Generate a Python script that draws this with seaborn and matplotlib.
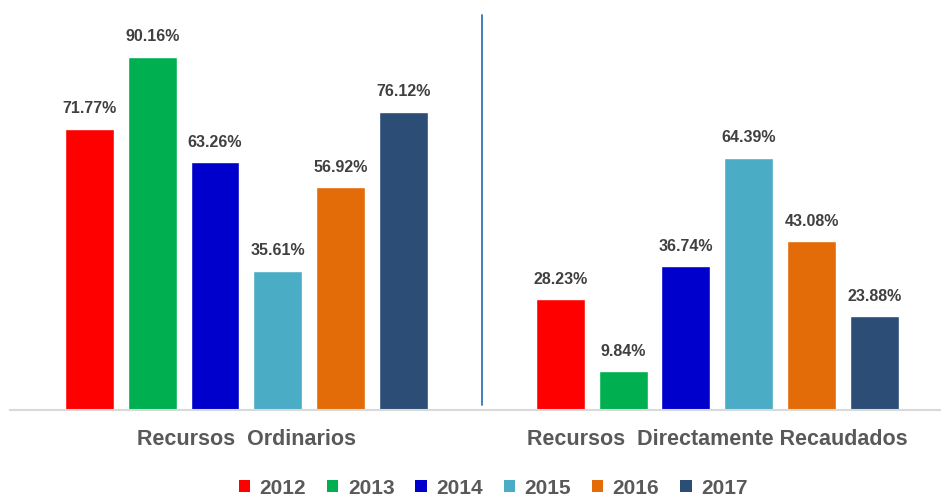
import pandas as pd
import matplotlib
matplotlib.use("Agg")
import matplotlib.pyplot as plt
import seaborn as sns
from matplotlib.patches import Patch

# Datos
categorias = ['Recursos  Ordinarios', 'Recursos  Directamente Recaudados']
anios = ['2012', '2013', '2014', '2015', '2016', '2017']
val_2012 = [71.77, 28.23]
val_2013 = [90.16, 9.84]
val_2014 = [63.26, 36.74]
val_2015 = [35.61, 64.39]
val_2016 = [56.92, 43.08]
val_2017 = [76.12, 23.88]
colores = ['#FF0000', '#00B050', '#0000CC', '#4BACC6', '#E36C09', '#2C4D75']

series = [val_2012, val_2013, val_2014, val_2015, val_2016, val_2017]
filas = []
for anio, vals in zip(anios, series):
    for cat, v in zip(categorias, vals):
        filas.append({'categoria': cat, 'anio': anio, 'valor': v})
df = pd.DataFrame(filas)

sns.set_style("white")
plt.rcParams['font.family'] = ['Liberation Sans', 'DejaVu Sans']

fig = plt.figure(figsize=(9.41, 4.99), dpi=100)
ax = fig.add_axes([10 / 941, 89 / 499, 931 / 941, 410 / 499])

sns.barplot(data=df, x='categoria', y='valor', hue='anio', order=categorias,
            hue_order=anios, palette=colores, gap=0.22, saturation=1,
            errorbar=None, legend=False, ax=ax)

for cont in ax.containers:
    ax.bar_label(cont, fmt='%.2f%%', padding=9, fontsize=11.5,
                 fontweight='bold', color='#404040')

ax.set_xlim(-0.502, 1.475)
ax.set_ylim(0, 104.7)
ax.set_xlabel('')
ax.set_ylabel('')
ax.set_yticks([])
ax.tick_params(axis='x', length=0, pad=14, labelsize=15.5, labelcolor='#595959')
for lbl in ax.get_xticklabels():
    lbl.set_fontweight('bold')

for s in ['top', 'right', 'left']:
    ax.spines[s].set_visible(False)
ax.spines['bottom'].set_color('#D9D9D9')
ax.spines['bottom'].set_linewidth(1.5)

# separador vertical entre grupos
ax.axvline(0.5, ymin=0.012, ymax=0.964, color='#2E75B6', linewidth=1.3)

handles = [Patch(facecolor=c, edgecolor='none', label=a) for a, c in zip(anios, colores)]
leg = fig.legend(handles=handles, loc='center', bbox_to_anchor=(0.524, 11 / 499),
                 ncol=6, frameon=False, fontsize=15, handlelength=0.55,
                 handleheight=0.55, handletextpad=0.45, columnspacing=1.0,
                 borderpad=0)
for t in leg.get_texts():
    t.set_fontweight('bold')
    t.set_color('#595959')

fig.savefig('out.png', dpi=100)
